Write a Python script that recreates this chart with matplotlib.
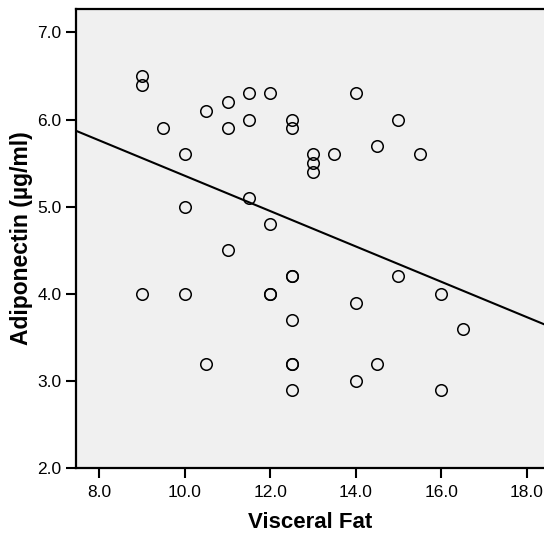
import numpy as np
import matplotlib
matplotlib.use("Agg")
import matplotlib.pyplot as plt
from matplotlib import font_manager

plt.rcParams['font.family'] = ['Liberation Sans', 'DejaVu Sans']

visceral_fat = [9.0, 9.0, 9.5, 10.0, 10.0, 10.5, 11.0, 11.0, 11.5, 11.5, 11.5, 12.0,
                12.0, 12.5, 12.5, 13.0, 13.0, 13.0, 13.5, 14.0, 14.5, 15.0, 15.5, 11.0,
                9.0, 10.0, 10.5, 12.0, 12.0, 12.5, 12.5, 12.5, 12.5, 12.5, 12.5,
                14.0, 14.0, 14.5, 15.0, 16.0, 16.0, 16.5]
adiponectin = [6.5, 6.4, 5.9, 5.6, 5.0, 6.1, 6.2, 5.9, 6.3, 6.0, 5.1, 6.3,
               4.8, 6.0, 5.9, 5.6, 5.5, 5.4, 5.6, 6.3, 5.7, 6.0, 5.6, 4.5,
               4.0, 4.0, 3.2, 4.0, 4.0, 4.2, 4.2, 3.7, 3.2, 3.2, 2.9,
               3.9, 3.0, 3.2, 4.2, 4.0, 2.9, 3.6]
fit_intercept = 7.381
fit_slope = -0.2026
x_ticks = [8.0, 10.0, 12.0, 14.0, 16.0, 18.0]
y_ticks = [2.0, 3.0, 4.0, 5.0, 6.0, 7.0]

names = {f.name for f in font_manager.fontManager.ttflist}
if 'Liberation Sans Narrow' in names:
    label_family = ['Liberation Sans Narrow', 'DejaVu Sans']
    xl_size, yl_size = 18.5, 19
else:
    label_family = ['Liberation Sans', 'DejaVu Sans']
    xl_size, yl_size = 16, 16.5

fig = plt.figure(figsize=(5.44, 5.40), dpi=100)
ax = fig.add_axes([76/544, (540-468.3)/540, (544-76)/544, (468.3-8.5)/540])
ax.set_facecolor('#F0F0F0')

xlim = (7.455, 18.405)
ylim = (2.0, 7.273)

xs = np.array(xlim)
ax.plot(xs, fit_intercept + fit_slope*xs, color='black', lw=1.5, zorder=2)
ax.plot(visceral_fat, adiponectin, linestyle='none', marker='o', markersize=8.3,
        markerfacecolor='none', markeredgecolor='black', markeredgewidth=1.1, zorder=3)

ax.set_xlim(*xlim)
ax.set_ylim(*ylim)
ax.set_xticks(x_ticks)
ax.set_yticks(y_ticks)
ax.set_xticklabels([f"{v:.1f}" for v in x_ticks])
ax.set_yticklabels([f"{v:.1f}" for v in y_ticks])
ax.tick_params(axis='both', direction='out', length=7.5, width=1.5, labelsize=12.5,
               colors='black')
ax.tick_params(axis='x', pad=4.5)
ax.tick_params(axis='y', pad=3)

for s in ['left', 'bottom', 'top']:
    ax.spines[s].set_linewidth(1.6)
    ax.spines[s].set_color('black')
ax.spines['right'].set_visible(False)

ax.set_xlabel('Visceral Fat', fontsize=xl_size, fontweight='bold', labelpad=9,
              family=label_family)
ax.set_ylabel('Adiponectin (µg/ml)', fontsize=yl_size, fontweight='bold', labelpad=3,
              family=label_family)

fig.savefig('out.png', dpi=100)
